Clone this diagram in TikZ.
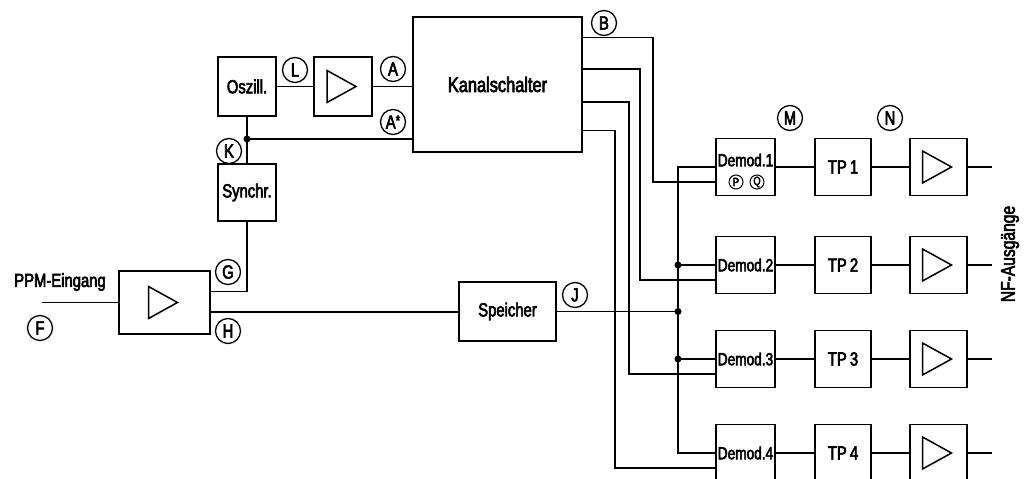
\documentclass[tikz,border=0pt]{standalone}
\usepackage{fontspec}
\setmainfont{Liberation Sans}[FakeStretch=0.78, FakeBold=3]
\usetikzlibrary{calc}

\begin{document}
\begin{tikzpicture}[x=1pt, y=-1pt, line width=1.6pt, font=\fontsize{19}{21}\selectfont,
  blk/.style={draw, line width=1.8pt, minimum width=58pt, minimum height=58pt, inner sep=1pt, align=center},
  amp/.style={blk, path picture={\draw[line width=1.5pt] ([shift={(-16pt,-16pt)}]path picture bounding box.center) -- ++(0pt,32pt) -- ++(29pt,-16pt) -- cycle;}},
  demod/.style={blk, minimum width=59pt, minimum height=57pt, font=\fontsize{17.5}{19}\selectfont},
  tag/.style={circle, draw, line width=1.3pt, inner sep=0pt, minimum size=25pt, font=\fontsize{19}{19}\selectfont},
  tagsm/.style={tag, line width=1pt, minimum size=14pt, font=\fontsize{12}{12}\selectfont},
  jdot/.style={circle, fill, inner sep=0pt, minimum size=7pt}]
\useasboundingbox (0,0) rectangle (1033,479);
\clip (0,0) rectangle (1033,479);
% input side
\node (ppm) at (60,282) {PPM-Eingang};
\coordinate (fin) at (42,302.5);
\node[amp, minimum width=91pt, minimum height=63pt] (ampin) at (164.5,302.5) {};
\coordinate (gp) at ($(ampin.north east)!0.33!(ampin.south east)$);
\coordinate (hp) at ($(ampin.north east)!0.65!(ampin.south east)$);
\node[blk, minimum height=57pt] (syn) at (247,192.5) {Synchr.};
\node[blk, minimum height=59pt] (osc) at (247,86.5) {Oszill.};
\node[amp, minimum height=59pt] (ampA) at (343,86.5) {};
\node[blk, minimum width=169pt, minimum height=135pt, font=\fontsize{21}{23}\selectfont] (ks) at (497.5,84.5) {Kanalschalter};
\node[blk, minimum width=97pt, minimum height=59pt] (spei) at (507.5,311.5) {Speicher};
\coordinate (kj) at (247,139);
\coordinate (bus) at (678,311.5);
\draw (fin) -- (ampin);
\draw (osc) -- (ampA);
\draw (ampA.east) -- (ampA.east -| ks.west);
\draw (osc) -- (syn);
\draw (kj) -- (kj -| ks.west);
\node[jdot] at (kj) {};
\draw (syn.south) |- (gp);
\draw (hp) -- (hp -| spei.west);
% channels
\foreach \i/\y in {1/167,2/265,3/359,4/453} {
  \node[demod] (dem\i) at (745.5,\y) {};
  \node[blk, minimum width=56pt, minimum height=57pt] (tp\i) at (843,\y) {TP\,\i};
  \node[amp, minimum width=57pt, minimum height=57pt] (out\i) at (938.5,\y) {};
  \coordinate (nf\i) at (992,\y);
  \draw (dem\i) -- (tp\i) -- (out\i) -- (nf\i);
}
\node[font=\fontsize{17.5}{19}\selectfont] at ($(dem1.center)+(0,-7)$) {Demod.1};
\foreach \i in {2,3,4}
  \node[font=\fontsize{17.5}{19}\selectfont] at (dem\i) {Demod.\i};
\node[tagsm] (p) at ($(dem1.center)+(-9.5,15)$) {P};
\node[tagsm] (q) at ($(dem1.center)+(11.5,15)$) {Q};
% Kanalschalter to demodulators
\foreach \i/\f/\dx in {1/0.156/70, 2/0.385/57, 3/0.63/46, 4/0.837/32} {
  \coordinate (ko\i) at ($(ks.north east)!\f!(ks.south east)$);
  \coordinate (lp\i) at ($(dem\i.north west)!0.75!(dem\i.south west)$);
  \draw (ko\i) -- ++(\dx,0) |- (lp\i);
}
% bus from Speicher
\draw (spei.east) -- (bus);
\draw (dem1.west) -- (dem1.west -| bus) -- (dem4.west -| bus) -- (dem4.west);
\draw (dem2.west -| bus) -- (dem2.west);
\draw (dem3.west -| bus) -- (dem3.west);
\node[jdot] at (bus) {};
\node[jdot] at (dem2.west -| bus) {};
\node[jdot] at (dem3.west -| bus) {};
% test points
\node[tag] (tF) at (40,328) {F};
\node[tag] (tG) at (228,272) {G};
\node[tag] (tH) at (228,331) {H};
\node[tag] (tK) at (229,151) {K};
\node[tag] (tL) at (295,70) {L};
\node[tag] (tA) at (393,69) {A};
\node[tag] (tAs) at (393,122) {A\raisebox{3pt}{\fontsize{15}{15}\selectfont*}};
\node[tag] (tB) at (604,23) {B};
\node[tag] (tJ) at (575,295) {J};
\node[tag] (tM) at (790,118) {M};
\node[tag] (tN) at (890,118) {N};
\node[rotate=90, font=\fontsize{20}{22}\selectfont] (nf) at (1010,254) {NF-Ausgänge};
\end{tikzpicture}
\end{document}
